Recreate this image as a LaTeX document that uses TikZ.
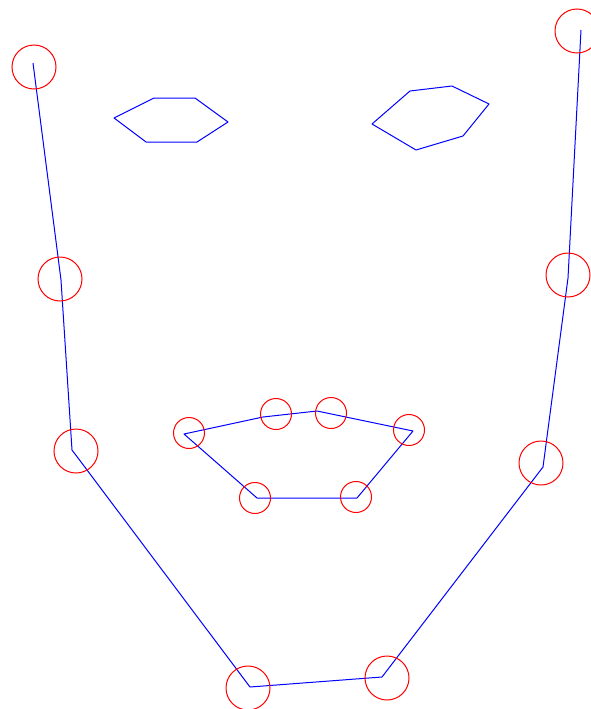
\documentclass[tikz,border=0pt]{standalone}
\usepackage{tikz}
\definecolor{lmblue}{HTML}{0000FF}
\definecolor{lmred}{HTML}{FF0000}
\begin{document}
\begin{tikzpicture}[x=1pt, y=-1pt,
  outline/.style={draw=lmblue, line width=1pt, line join=round},
  ringmark/.style={circle, draw=lmred, line width=1pt,
                   minimum size=44pt, inner sep=0pt},
  smallring/.style={ringmark, minimum size=31pt}
]
\fill[white] (0,0) rectangle (590,709);
\useasboundingbox (0,0) rectangle (590,709);
% jaw line
\foreach \n/\p in {1/{33,63},2/{61,280},3/{72,450},4/{250,687},%
                   5/{382,677},6/{543,467},7/{568,278},8/{581,30}}
  \coordinate (j\n) at (\p);
\draw[outline] (j1) \foreach \k in {2,...,8} {-- (j\k)};
% eyes
\foreach \n/\p in {1/{114,118},2/{154,98},3/{195,98},4/{228,122},%
                   5/{197,142},6/{146,142}}
  \coordinate (le\n) at (\p);
\foreach \n/\p in {1/{372,124},2/{410,91},3/{452,86},4/{489,104},%
                   5/{463,136},6/{416,150}}
  \coordinate (re\n) at (\p);
\draw[outline] (le1) \foreach \k in {2,...,6} {-- (le\k)} -- cycle;
\draw[outline] (re1) \foreach \k in {2,...,6} {-- (re\k)} -- cycle;
% mouth
\foreach \n/\p in {1/{184,434},2/{263,417},3/{317,411},4/{413,431},%
                   5/{357,498},6/{257,498}}
  \coordinate (m\n) at (\p);
\draw[outline] (m1) \foreach \k in {2,...,6} {-- (m\k)} -- cycle;
% landmarks
\foreach \n/\p in {1/{34,67},2/{60,279},3/{76,451},4/{248,688},%
                   5/{387,678},6/{541,463},7/{568,275},8/{577,31}}
  \node[ringmark] (r\n) at (\p) {};
\foreach \n/\p in {1/{189,433},2/{276,414},3/{331,413},4/{409,430},%
                   5/{356,497},6/{255,498}}
  \node[smallring] (s\n) at (\p) {};
\end{tikzpicture}
\end{document}
